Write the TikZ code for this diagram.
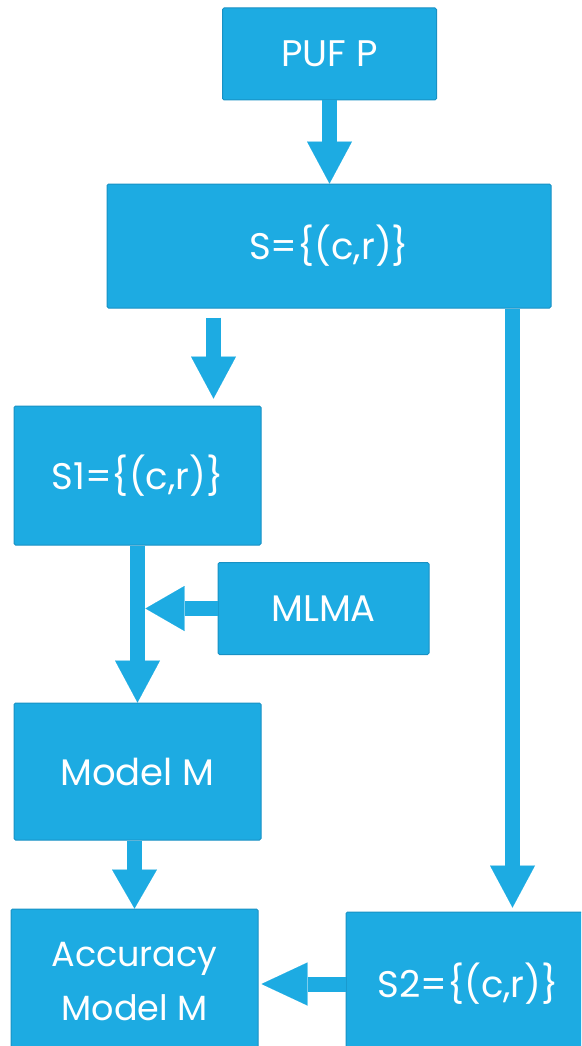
\documentclass[tikz,border=0pt]{standalone}
\usepackage{fontspec}
\setmainfont{Poppins}
\usetikzlibrary{arrows.meta}
\definecolor{boxblue}{RGB}{29,171,226}
\definecolor{boxedge}{RGB}{24,145,196}
\begin{document}
\begin{tikzpicture}[x=1pt,y=-1pt,
  box/.style={fill=boxblue,draw=boxedge,line width=1pt,rounded corners=1.5pt,
    text=white,font=\fontsize{37}{55}\selectfont,inner sep=0pt,align=center},
  flow/.style={draw=boxblue,line width=15pt,
    -{Triangle[length=42pt,width=45pt,line width=0.01pt]}}
]
\useasboundingbox (0,0) rectangle (581,1046);
\clip (0,0) rectangle (581,1046);

% boxes
\node[box,minimum width=214pt,minimum height=92pt] (puf) at (329.5,54) {PUF P};
\node[box,minimum width=444pt,minimum height=124pt] (s) at (329,246) {S=\{(c,r)\}};
\node[box,minimum width=247pt,minimum height=139pt] (s1) at (137.5,475.5) {S1=\{(c,r)\}};
\node[box,minimum width=211pt,minimum height=92pt] (mlma) at (323.5,608.5) {MLMA};
\node[box,minimum width=247pt,minimum height=137pt] (model) at (137.5,771.5) {Model M};
\node[box,minimum width=247pt,minimum height=146pt,font=\fontsize{35}{54}\selectfont] (acc) at (134.5,982) {Accuracy\\Model M};
\node[box,minimum width=244pt,minimum height=144pt] (s2) at (468,984) {S2=\{(c,r)\}};

% connectors
\coordinate (split) at ([shift={(107pt,-9pt)}]s.south west);
\coordinate (rtop) at ([xshift=-39pt]s.south east);
\draw[flow] (puf.south) -- (puf.south |- s.north);
\draw[flow,shorten >=7pt] (split) -- (split |- s1.north);
\draw[flow,shorten >=4pt] (rtop) -- (rtop |- s2.north);
\draw[flow] (s1.south) -- (model.north);
\draw[flow,-{Triangle[length=39pt,width=45pt,line width=0.01pt]}] (mlma.west) -- ([xshift=8pt]mlma.west -| s1.south);
\draw[flow,-{Triangle[length=39pt,width=45pt,line width=0.01pt]}] (acc.north |- model.south) -- (acc.north);
\draw[flow,-{Triangle[length=46pt,width=43pt,line width=0.01pt]}] (s2.west) -- ([xshift=3pt]acc.east |- s2.west);
\end{tikzpicture}
\end{document}
